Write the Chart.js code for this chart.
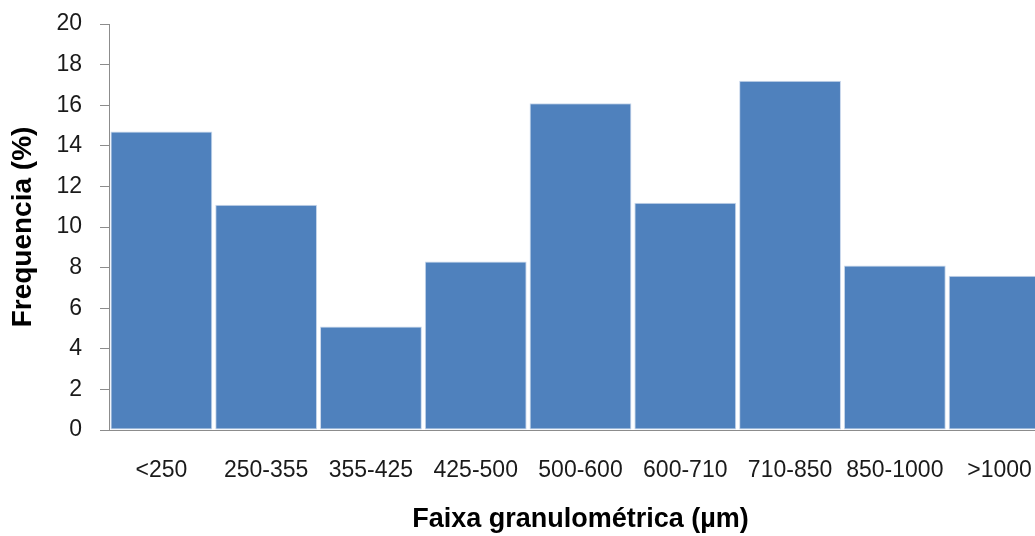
<!DOCTYPE html>
<html>
<head>
<meta charset="utf-8">
<script src="https://cdn.jsdelivr.net/npm/chart.js@4.4.1/dist/chart.umd.min.js"></script>
<style>
  html, body { margin: 0; padding: 0; background: #ffffff; overflow: hidden; }
  #wrap { position: absolute; left: 0; top: 0; width: 1060px; height: 536px; }
</style>
</head>
<body>
<div id="wrap"><canvas id="chart" width="1060" height="536"></canvas></div>
<script>
// Particle size classes (µm) and their frequency (%)
const categories = ['<250', '250-355', '355-425', '425-500', '500-600', '600-710', '710-850', '850-1000', '>1000'];
const frequencies = [14.7, 11.1, 5.1, 8.3, 16.1, 11.2, 17.2, 8.1, 7.6];

const yMin = 0;
const yMax = 20;
const yStep = 2;

const xTitle = 'Faixa granulométrica (µm)';
const yTitle = 'Frequencia (%)';

const tickFont = { family: '"Liberation Sans", Arial, sans-serif', size: 23 };
const xTitleFont = { family: '"Liberation Sans", Arial, sans-serif', size: 27, weight: 'bold', lineHeight: 1 };
const yTitleFont = { family: '"Liberation Sans", Arial, sans-serif', size: 28, weight: 'bold', lineHeight: 1 };
const axisGray = '#8c8c8c';

new Chart(document.getElementById('chart'), {
  type: 'bar',
  data: {
    labels: categories,
    datasets: [{
      data: frequencies,
      backgroundColor: '#4F81BD',
      borderColor: '#c9d8ec',
      borderWidth: 1,
      borderSkipped: false,
      categoryPercentage: 1.0,
      barPercentage: 0.972
    }]
  },
  options: {
    responsive: false,
    animation: false,
    devicePixelRatio: 1,
    layout: { padding: { top: 24, right: 8, bottom: 0, left: 0 } },
    plugins: {
      legend: { display: false },
      tooltip: { enabled: false }
    },
    scales: {
      x: {
        grid: { display: false, drawTicks: false },
        border: { display: true, color: axisGray, width: 1 },
        ticks: { font: tickFont, color: '#1a1a1a', padding: 27, maxRotation: 0, autoSkip: false },
        title: { display: true, text: xTitle, font: xTitleFont, color: '#000000', padding: { top: 0, bottom: 2.5 } },
        afterFit(scale) {
          scale.height = 106;
          scale.paddingLeft = 0;
          scale.paddingRight = 0;
        }
      },
      y: {
        min: yMin,
        max: yMax,
        grid: { drawOnChartArea: false, drawTicks: true, tickLength: 9, color: axisGray },
        border: { display: true, color: axisGray, width: 1 },
        ticks: { stepSize: yStep, font: tickFont, color: '#1a1a1a', padding: 18 },
        title: { display: true, text: yTitle, font: yTitleFont, color: '#000000', padding: { top: 9, bottom: 0 } },
        afterFit(scale) {
          scale.width = 109;
          scale.paddingTop = 0;
          scale.paddingBottom = 0;
        }
      }
    }
  }
});
</script>
</body>
</html>
